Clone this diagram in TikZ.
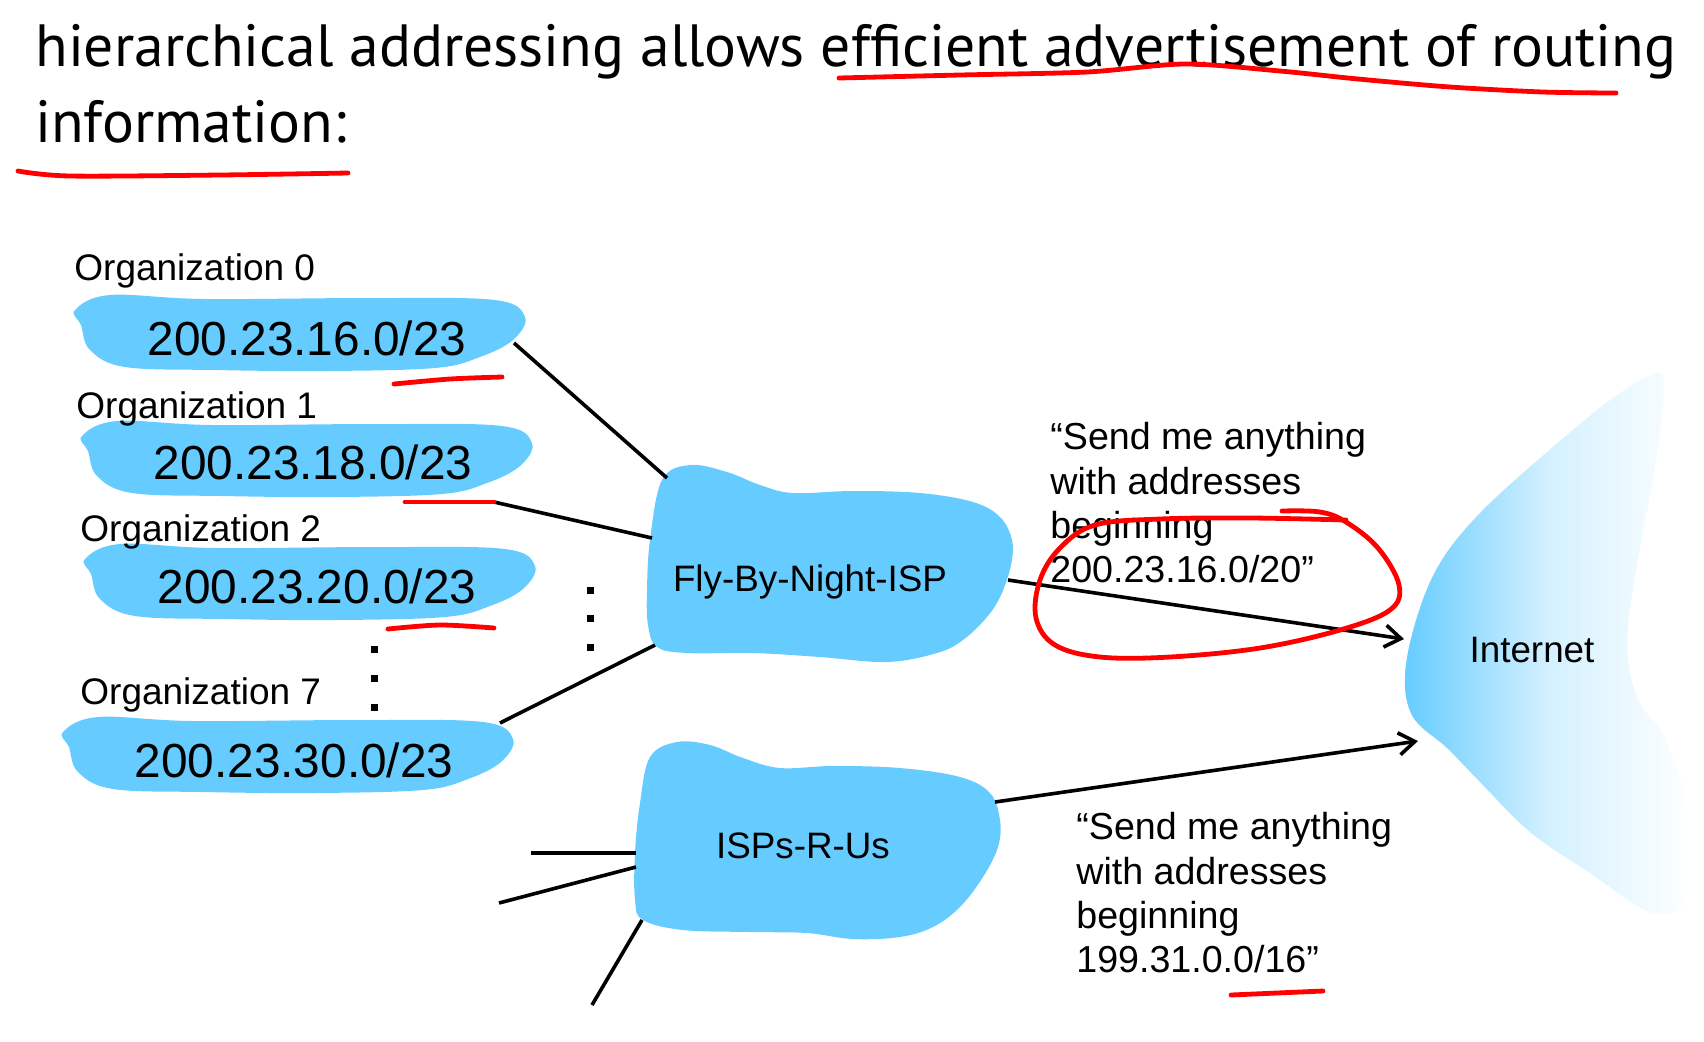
\documentclass[tikz,border=0pt]{standalone}
\usepackage{fontspec}
\setmainfont{Liberation Sans}
\newfontfamily\headfont{PT Sans}
\usetikzlibrary{arrows.meta}
\definecolor{netblue}{RGB}{102,204,255}
\definecolor{penred}{RGB}{255,0,0}
\pgfdeclarehorizontalshading{netfade}{100bp}{color(0bp)=(netblue); color(25bp)=(netblue);
  color(50bp)=(netblue!28); color(75bp)=(white); color(100bp)=(white)}
\tikzset{
  orgblob/.pic={\fill[netblue] plot[smooth cycle,tension=0.6] coordinates {(0,15) (35,0) (130,4) (300,3)
      (420,5) (450,22) (438,45) (405,62) (360,73) (250,76) (140,75) (50,72) (15,55) (6,30)};},
  headline/.style={anchor=north west,inner sep=0,align=left,font=\headfont\fontsize{29.8}{38}\selectfont},
  orglabel/.style={anchor=base west,inner sep=0,font=\fontsize{18.5}{22}\selectfont},
  addrtext/.style={anchor=base,inner sep=0,font=\fontsize{23.9}{28}\selectfont},
  cloudlabel/.style={inner sep=0,font=\fontsize{18.4}{22}\selectfont},
  advert/.style={anchor=north west,inner sep=0,align=left,font=\fontsize{18.8}{22.2}\selectfont},
  link/.style={line width=1.8pt},
  adv/.style={line width=1.8pt,-{Straight Barb[length=8pt,width=11pt]}},
  pen/.style={penred,line width=2.4pt,line cap=round,line join=round}}
\begin{document}
\begin{tikzpicture}[x=0.5pt,y=-0.5pt]
  \useasboundingbox (0,0) rectangle (1704,1041);
  \node[headline] (head) at (35,24) {hierarchical addressing allows efficient advertisement of routing\\information:};

  \pic at (75,295) {orgblob};
  \pic at (82,421) {orgblob};
  \pic at (85,544) {orgblob};
  \pic at (63,717) {orgblob};
  \fill[netblue] plot[smooth cycle,tension=0.6] coordinates {(662,480) (690,465) (727,472) (760,485)
    (793,493) (853,491) (920,493) (973,502) (1000,517) (1012,540) (1011,565) (1001,595) (987,617)
    (963,640) (937,653) (887,662) (820,657) (753,653) (687,653) (657,647) (648,625) (647,590)
    (650,540)};
  \fill[netblue] plot[smooth cycle,tension=0.6] coordinates {(650,757) (677,742) (710,745) (743,758)
    (780,768) (833,766) (900,768) (960,777) (990,793) (1000,820) (998,847) (983,877) (960,907)
    (933,927) (900,937) (853,939) (807,933) (750,932) (683,930) (643,920) (635,900) (635,853)
    (640,803)};
  \shade[shading=netfade] plot[smooth cycle,tension=0.6]
    coordinates {(1657,373) (1613,398) (1547,452) (1480,513) (1440,563) (1417,617) (1405,675)
    (1413,717) (1447,748) (1480,782) (1530,832) (1587,871) (1653,913) (1688,895) (1688,810)
    (1665,738) (1640,703) (1628,660) (1630,609) (1643,532) (1657,455) (1664,390)};

  \node[orglabel] (l0) at (74,280) {Organization 0};
  \node[orglabel] (l1) at (76,418) {Organization 1};
  \node[orglabel] (l2) at (80,541) {Organization 2};
  \node[orglabel] (l7) at (80,704) {Organization 7};
  \node[addrtext] (a0) at (307,355) {200.23.16.0/23};
  \node[addrtext] (a1) at (313,479) {200.23.18.0/23};
  \node[addrtext] (a2) at (317,603) {200.23.20.0/23};
  \node[addrtext] (a7) at (294,777) {200.23.30.0/23};
  \node[cloudlabel] (fbn) at (810,582) {Fly-By-Night-ISP};
  \node[cloudlabel] (isp) at (803,846) {ISPs-R-Us};
  \node[cloudlabel] (inet) at (1532,650) {Internet};
  \node[advert] (msg1) at (1050,422) {“Send me anything\\with addresses\\beginning\\200.23.16.0/20”};
  \node[advert] (msg2) at (1076,812) {“Send me anything\\with addresses\\beginning\\199.31.0.0/16”};

  \foreach \y in {649,678,707} \fill (370.5,\y-3.5) rectangle ++(7,7);
  \foreach \y in {590,618,647} \fill (586.5,\y-3.5) rectangle ++(7,7);

  \coordinate (o0) at (514,343); \coordinate (f0) at (667,478);
  \coordinate (o1) at (494,502); \coordinate (f1) at (652,538);
  \coordinate (o7) at (500,723); \coordinate (f7) at (655,645);
  \coordinate (fout) at (1008,580); \coordinate (in1) at (1404,639);
  \coordinate (iout) at (995,802); \coordinate (in2) at (1418,741);
  \coordinate (s1) at (531,853); \coordinate (e1) at (636,853);
  \coordinate (s2) at (499,903); \coordinate (e2) at (636,867);
  \coordinate (s3) at (592,1005); \coordinate (e3) at (642,920);
  \draw[link] (o0) -- (f0);
  \draw[link] (o1) -- (f1);
  \draw[link] (o7) -- (f7);
  \draw[link] (s1) -- (e1);
  \draw[link] (s2) -- (e2);
  \draw[link] (s3) -- (e3);
  \draw[adv] (fout) -- (in1);
  \draw[adv] (iout) -- (in2);

  \draw[pen] plot[smooth] coordinates {(839,78) (960,75) (1087,72) (1185,64) (1280,71) (1358,79)
    (1450,87) (1543,92) (1616,93)};
  \draw[pen] plot[smooth] coordinates {(18,171) (70,176) (220,175) (348,173)};
  \draw[pen] plot[smooth] coordinates {(394,384) (450,379) (502,377)};
  \draw[pen] (405,502) -- (494,502);
  \draw[pen] plot[smooth] coordinates {(388,629) (440,625) (494,628)};
  \draw[pen] (1231,995) -- (1323,991);
  \draw[pen] plot[smooth,tension=0.6] coordinates {(1282,511) (1320,512) (1346,522) (1378,548)
    (1399,585) (1390,610) (1340,630) (1260,648) (1170,657) (1100,657) (1055,645) (1036,618)
    (1040,580) (1060,548) (1095,525) (1160,519) (1250,518) (1346,520)};
\end{tikzpicture}
\end{document}
